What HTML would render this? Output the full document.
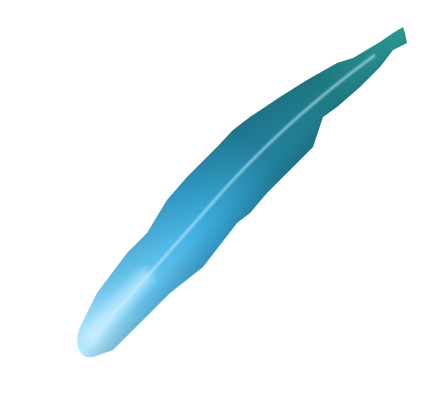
<!DOCTYPE html>
<html><head><meta charset="utf-8"><style>
html,body{margin:0;padding:0;background:#fff;width:422px;height:408px;overflow:hidden}
</style></head><body>
<svg width="422" height="408" viewBox="0 0 422 408" xmlns="http://www.w3.org/2000/svg">
<defs>
<linearGradient id="g" x1="80" y1="350" x2="400" y2="35" gradientUnits="userSpaceOnUse">
<stop offset="0" stop-color="#b8e8ff"/>
<stop offset="0.18" stop-color="#6ccaf5"/>
<stop offset="0.4" stop-color="#3aaadb"/>
<stop offset="0.6" stop-color="#22809c"/>
<stop offset="0.8" stop-color="#1e7a82"/>
<stop offset="1" stop-color="#2a9490"/>
</linearGradient>
<linearGradient id="edge" x1="190" y1="160" x2="260" y2="230" gradientUnits="userSpaceOnUse">
<stop offset="0" stop-color="#0d4a5a" stop-opacity="0.3"/>
<stop offset="0.45" stop-color="#0d4a5a" stop-opacity="0"/>
<stop offset="0.6" stop-color="#0d4a5a" stop-opacity="0"/>
<stop offset="1" stop-color="#0a3a55" stop-opacity="0.45"/>
</linearGradient>
<clipPath id="cp"><path d="M403,27 L393,33 L380,42 L353,58 L337,63 L307,80 L280,97 L250,117 L233,130 L217,147 L187,177 L167,200 L147,233 L127,253 L97,293 L80,327 C75,340 76,352 86,357 L93,357 L113,350 L150,313 L170,293 L203,267 L237,223 L250,213 L267,193 L293,167 L313,147 L323,117 L337,107 L360,87 L380,67 L393,50 L407,43 L405,33 Z"/></clipPath>
<filter id="b2"><feGaussianBlur stdDeviation="5"/></filter>
<filter id="b3"><feGaussianBlur stdDeviation="1"/></filter>
</defs>
<g clip-path="url(#cp)">
<rect x="0" y="0" width="422" height="408" fill="url(#g)"/>
<rect x="0" y="0" width="422" height="408" fill="url(#edge)"/>
<path filter="url(#b2)" stroke="#eefaff" stroke-width="14" fill="none" opacity="0.55" d="M88,342 C105,320 125,298 150,272"/>
<path filter="url(#b3)" stroke="#c8f0ff" stroke-width="2.5" fill="none" opacity="0.7" d="M95,335 C140,285 180,240 215,200 S300,110 375,55"/>
</g>
</svg>
</body></html>
